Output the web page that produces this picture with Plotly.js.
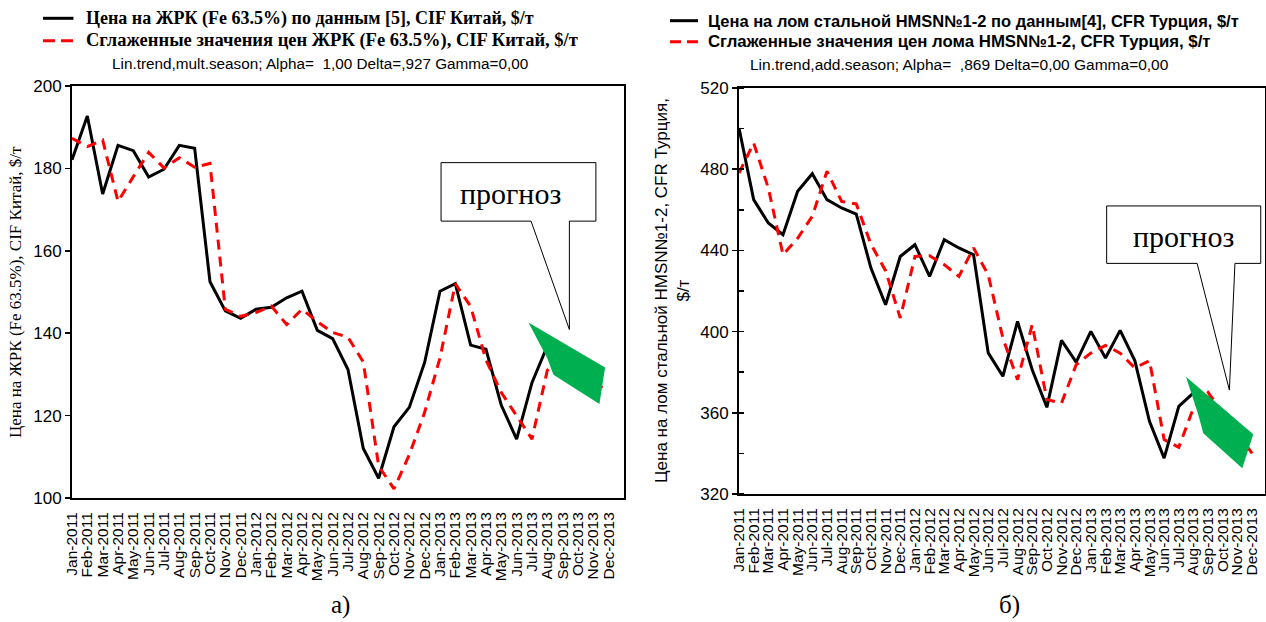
<!DOCTYPE html>
<html>
<head>
<meta charset="utf-8">
<script src="https://cdn.plot.ly/plotly-3.0.1.min.js"></script>
<style>html,body{margin:0;padding:0;background:#fff;}#chart{width:1266px;height:622px;}</style>
</head>
<body>
<div id="chart"></div>
<script>
// ---- categories ----
const months = ["Jan-2011","Feb-2011","Mar-2011","Apr-2011","May-2011","Jun-2011","Jul-2011","Aug-2011","Sep-2011","Oct-2011","Nov-2011","Dec-2011",
"Jan-2012","Feb-2012","Mar-2012","Apr-2012","May-2012","Jun-2012","Jul-2012","Aug-2012","Sep-2012","Oct-2012","Nov-2012","Dec-2012",
"Jan-2013","Feb-2013","Mar-2013","Apr-2013","May-2013","Jun-2013","Jul-2013","Aug-2013","Sep-2013","Oct-2013","Nov-2013","Dec-2013"];
const idx = months.map((m,i)=>i);

// ---- chart a) iron ore ----
const orePrice = [182.1,192.7,173.8,185.6,184.3,177.9,179.8,185.6,184.9,152.5,145.4,143.6,
145.8,146.3,148.6,150.2,140.7,138.7,131.2,112.0,104.8,117.3,122.0,132.9,
150.2,152.0,137.1,136.1,122.5,114.3,128.0,136.9,null,null,null,null];
const oreSmooth = [187.3,185.3,186.9,172.0,178.0,183.9,180.1,182.6,180.3,181.2,145.8,144.1,
145.0,146.6,142.1,145.8,142.8,140.2,139.0,133.0,107.8,102.2,110.5,120.8,
134.0,152.0,146.5,133.5,125.6,120.0,114.3,131.0,134.0,131.0,128.0,126.0];
const oreForecastX = [29.77,34.77,34.40,31.40,31.00];
const oreForecastY = [142.6,131.7,122.8,129.9,133.9];
const oreYTicks = [100,120,140,160,180,200];

// ---- chart б) scrap ----
const scrapPrice = [500.3,465.0,453.5,447.7,469.1,477.8,465.0,460.9,457.9,431.3,413.2,437.0,
442.8,427.2,445.3,441.2,437.9,389.5,378.0,405.0,381.2,362.7,395.7,385.0,
400.1,387.0,400.6,385.7,355.8,337.7,363.2,369.8,null,null,null,null];
const scrapSmooth = [478.1,492.9,470.7,437.9,446.0,456.8,479.0,464.1,462.9,443.0,430.0,406.7,
437.0,437.4,433.0,427.2,441.2,428.0,396.8,376.3,403.4,366.5,364.8,383.7,
389.4,393.2,389.4,382.1,385.7,346.8,343.0,362.4,370.0,360.0,350.0,340.0];
const scrapForecastX = [30.49,35.08,34.33,31.67,31.33];
const scrapForecastY = [377.8,349.4,332.7,349.9,359.0];
const scrapYTicks = [320,360,400,440,480,520];

// ---- texts ----
const oreLegend1 = "Цена на ЖРК (Fe 63.5%) по данным [5], CIF Китай, $/т";
const oreLegend2 = "Сглаженные значения цен ЖРК (Fe 63.5%), CIF Китай, $/т";
const oreSub = "Lin.trend,mult.season; Alpha=\u00a0\u00a01,00 Delta=,927 Gamma=0,00";
const oreYTitle = "Цена на ЖРК (Fe 63.5%), CIF Китай, $/т";
const scrapLegend1 = "Цена на лом стальной HMSN№1-2 по данным[4], CFR Турция, $/т";
const scrapLegend2 = "Сглаженные значения цен лома HMSN№1-2, CFR Турция, $/т";
const scrapSub = "Lin.trend,add.season; Alpha=\u00a0\u00a0,869 Delta=0,00 Gamma=0,00";
const scrapYTitle = "Цена на лом стальной HMSN№1-2, CFR Турция,<br>$/т";
const forecastLabel = "прогноз";

// ---- helpers ----
const W = 1266, H = 622;
const px = x => x / W;
const py = y => 1 - y / H;
const SANS = "Liberation Sans, Arial, sans-serif";
const SERIF = "Liberation Serif, Times New Roman, serif";
const RED = "#ff0000", GREEN = "#00b050";

const lineStyle = {color:"#000", width:3};
const dashStyle = {color:RED, width:3, dash:"10px,7px"};

const traces = [
  {x: idx, y: orePrice, xaxis:"x", yaxis:"y", mode:"lines", line: lineStyle, hoverinfo:"skip"},
  {x: idx, y: oreSmooth, xaxis:"x", yaxis:"y", mode:"lines", line: dashStyle, hoverinfo:"skip"},
  {x: oreForecastX, y: oreForecastY, xaxis:"x", yaxis:"y", mode:"lines", fill:"toself", fillcolor:GREEN, line:{width:0, color:GREEN}, hoverinfo:"skip"},
  {x: idx, y: scrapPrice, xaxis:"x2", yaxis:"y2", mode:"lines", line: lineStyle, hoverinfo:"skip"},
  {x: idx, y: scrapSmooth, xaxis:"x2", yaxis:"y2", mode:"lines", line: dashStyle, hoverinfo:"skip"},
  {x: scrapForecastX, y: scrapForecastY, xaxis:"x2", yaxis:"y2", mode:"lines", fill:"toself", fillcolor:GREEN, line:{width:0, color:GREEN}, hoverinfo:"skip"}
];

const domL = {x:[px(72), px(623.5)], y:[py(498), py(86)]};
const domR = {x:[px(739), px(1265)], y:[py(494), py(88)]};
const rangeL = [0, 35.97];
const rangeR = [0, 35.88];
const majorTickIdx = [4,9,14,19,24,29,34];

function monthAxis(dom, range, anchor){
  return {domain: dom.x, anchor: anchor, range: range, tickmode:"array", tickvals: idx, ticktext: months,
    tickangle: -90, ticks:"", ticklabelstandoff: 6, tickfont:{family:SANS, size:15.5, color:"#000"},
    showline:true, mirror:true, linewidth:2, linecolor:"#000", showgrid:false, zeroline:false, fixedrange:true};
}
function tickOnly(over, anchor, side, range, vals){
  return {overlaying: over, anchor: anchor, side: side, range: range, tickmode:"array", tickvals: vals,
    ticks:"inside", ticklen:5, tickwidth:1.5, tickcolor:"#000", showticklabels:false,
    showline:false, showgrid:false, zeroline:false, fixedrange:true};
}

function callout(xr, xb, tip, yr, xref, yref){
  const [x1,x2] = xr, [b1,b2] = xb, [y1,y2] = yr;
  return {type:"path", xref:xref, yref:yref, fillcolor:"#fff", line:{color:"#000", width:1},
    path:`M ${x1},${y1} L ${x2},${y1} L ${x2},${y2} L ${b2},${y2} L ${tip[0]},${tip[1]} L ${b1},${y2} L ${x1},${y2} Z`};
}

const layout = {
  width: W, height: H, margin:{l:0,r:0,t:0,b:0}, paper_bgcolor:"#fff", plot_bgcolor:"#fff",
  showlegend:false, font:{family:SANS, color:"#000"},
  xaxis: monthAxis(domL, rangeL, "y"),
  yaxis: {domain: domL.y, anchor:"x", range:[100,200], tickmode:"array", tickvals: oreYTicks,
    ticks:"outside", ticklen:5, tickwidth:1.5, tickcolor:"#000", tickfont:{family:SANS, size:17, color:"#000"},
    showline:true, mirror:true, linewidth:2, linecolor:"#000", showgrid:false, zeroline:false, fixedrange:true},
  xaxis3: tickOnly("x", "y", "bottom", rangeL, majorTickIdx),
  xaxis5: tickOnly("x", "y", "top", [0,8], [0,1,2,3,4,5,6,7,8]),
  yaxis3: tickOnly("y", "x", "right", [0,7], [0,1,2,3,4,5,6,7]),
  xaxis2: monthAxis(domR, rangeR, "y2"),
  yaxis2: {domain: domR.y, anchor:"x2", range:[320,520], tickmode:"array", tickvals: scrapYTicks,
    ticks:"outside", ticklen:5, tickwidth:1.5, tickcolor:"#000", tickfont:{family:SANS, size:17, color:"#000"},
    minor:{tickmode:"linear", tick0:320, dtick:20, ticks:"inside", ticklen:5, tickwidth:1.5, tickcolor:"#000", showgrid:false},
    showline:true, mirror:true, linewidth:2, linecolor:"#000", showgrid:false, zeroline:false, fixedrange:true},
  xaxis4: tickOnly("x2", "y2", "bottom", rangeR, majorTickIdx),
  xaxis6: tickOnly("x2", "y2", "top", [0,8], [0,1,2,3,4,5,6,7,8]),
  yaxis4: tickOnly("y2", "x2", "right", [0,9], [0,1,2,3,4,5,6,7,8,9]),
  shapes: [
    // legend samples
    {type:"line", xref:"paper", yref:"paper", x0:px(43), x1:px(73.5), y0:py(18.3), y1:py(18.3), line:{color:"#000", width:3}},
    {type:"line", xref:"paper", yref:"paper", x0:px(43), x1:px(73.5), y0:py(40.7), y1:py(40.7), line:{color:RED, width:3, dash:"12px,6px"}},
    {type:"line", xref:"paper", yref:"paper", x0:px(670), x1:px(698), y0:py(20.7), y1:py(20.7), line:{color:"#000", width:3}},
    {type:"line", xref:"paper", yref:"paper", x0:px(670), x1:px(698), y0:py(41.7), y1:py(41.7), line:{color:RED, width:3, dash:"11px,6px"}},
    callout([24.07,34.17],[29.94,32.44],[32.44,140.9],[181.4,167.2],"x","y"),
    callout([25.08,35.59],[31.25,33.83],[33.45,371.2],[461.9,433.6],"x2","y2")
  ],
  annotations: [
    {xref:"paper", yref:"paper", x:px(84), y:py(18.3), xanchor:"left", yanchor:"middle", showarrow:false, text:"<b>"+oreLegend1+"</b>", font:{family:SERIF, size:18, color:"#000"}},
    {xref:"paper", yref:"paper", x:px(84), y:py(40.7), xanchor:"left", yanchor:"middle", showarrow:false, text:"<b>"+oreLegend2+"</b>", font:{family:SERIF, size:18.5, color:"#000"}},
    {xref:"paper", yref:"paper", x:px(319.5), y:py(63.3), xanchor:"center", yanchor:"middle", showarrow:false, text:oreSub, font:{family:SANS, size:15.3, color:"#000"}},
    {xref:"paper", yref:"paper", x:px(706), y:py(20.7), xanchor:"left", yanchor:"middle", showarrow:false, text:"<b>"+scrapLegend1+"</b>", font:{family:SANS, size:16.5, color:"#000"}},
    {xref:"paper", yref:"paper", x:px(706), y:py(41.7), xanchor:"left", yanchor:"middle", showarrow:false, text:"<b>"+scrapLegend2+"</b>", font:{family:SANS, size:16.8, color:"#000"}},
    {xref:"paper", yref:"paper", x:px(959.5), y:py(65), xanchor:"center", yanchor:"middle", showarrow:false, text:scrapSub, font:{family:SANS, size:15.5, color:"#000"}},
    {xref:"paper", yref:"paper", x:px(15), y:py(292), xanchor:"center", yanchor:"middle", showarrow:false, textangle:-90, text:oreYTitle, font:{family:SERIF, size:17, color:"#000"}},
    {xref:"paper", yref:"paper", x:px(672), y:py(291), xanchor:"center", yanchor:"middle", showarrow:false, textangle:-90, text:scrapYTitle, font:{family:SANS, size:17, color:"#000"}},
    {xref:"x", yref:"y", x:28.6, y:173.8, xanchor:"center", yanchor:"middle", showarrow:false, text:forecastLabel, font:{family:SERIF, size:30, color:"#000"}},
    {xref:"x2", yref:"y2", x:30.3, y:447.0, xanchor:"center", yanchor:"middle", showarrow:false, text:forecastLabel, font:{family:SERIF, size:30, color:"#000"}},
    {xref:"paper", yref:"paper", x:px(340), y:py(605), xanchor:"center", yanchor:"middle", showarrow:false, text:"а)", font:{family:SERIF, size:25, color:"#000"}},
    {xref:"paper", yref:"paper", x:px(1010), y:py(605), xanchor:"center", yanchor:"middle", showarrow:false, text:"б)", font:{family:SERIF, size:25, color:"#000"}}
  ]
};

Plotly.newPlot("chart", traces, layout, {staticPlot:true, displayModeBar:false});
</script>
</body>
</html>
